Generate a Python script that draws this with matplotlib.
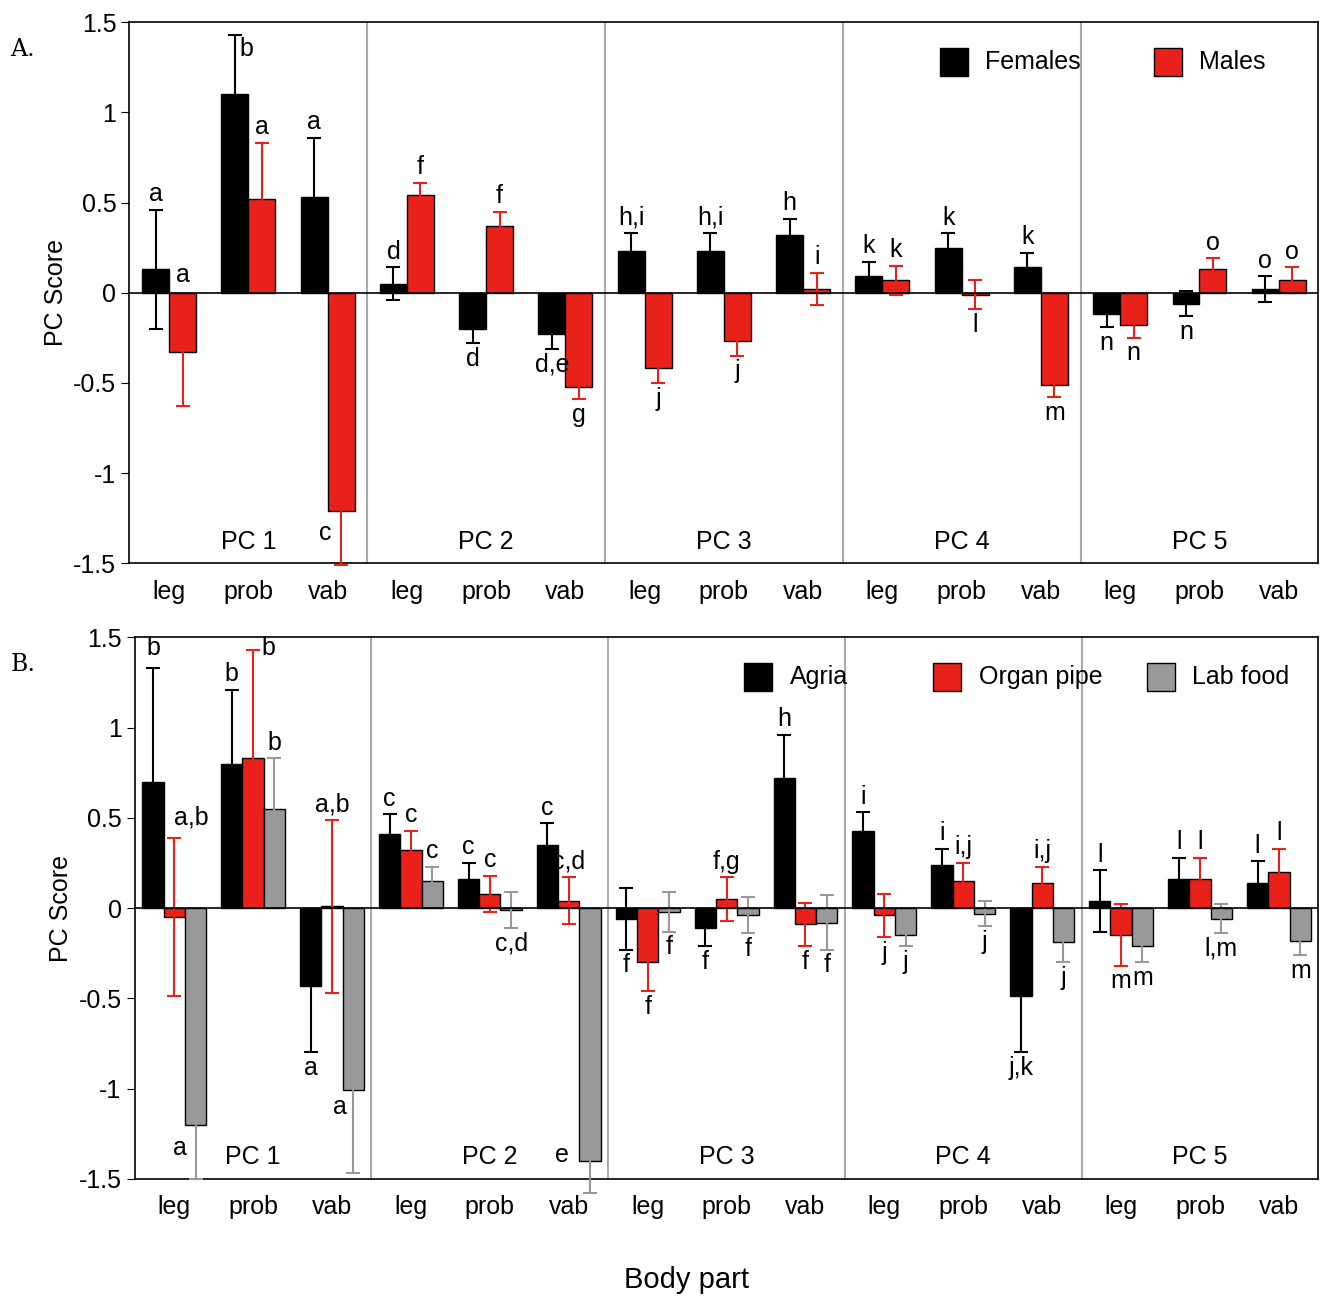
import matplotlib.pyplot as plt
import numpy as np

plt.rcParams['font.family'] = ['Liberation Sans', 'DejaVu Sans']

pcs = ['PC 1', 'PC 2', 'PC 3', 'PC 4', 'PC 5']
parts = ['leg', 'prob', 'vab']

# Panel A: sexes
fem = [0.13, 1.10, 0.53, 0.05, -0.20, -0.23, 0.23, 0.23, 0.32, 0.09, 0.25, 0.14, -0.12, -0.06, 0.02]
fem_err = [0.33, 0.33, 0.33, 0.09, 0.08, 0.08, 0.10, 0.10, 0.09, 0.08, 0.08, 0.08, 0.07, 0.07, 0.07]
fem_lab = ['a', 'b', 'a', 'd', 'd', 'd,e', 'h,i', 'h,i', 'h', 'k', 'k', 'k', 'n', 'n', 'o']
male = [-0.33, 0.52, -1.21, 0.54, 0.37, -0.52, -0.42, -0.27, 0.02, 0.07, -0.01, -0.51, -0.18, 0.13, 0.07]
male_err = [0.30, 0.31, 0.30, 0.07, 0.08, 0.07, 0.08, 0.08, 0.09, 0.08, 0.08, 0.07, 0.07, 0.06, 0.07]
male_lab = ['a', 'a', 'c', 'f', 'f', 'g', 'j', 'j', 'i', 'k', 'l', 'm', 'n', 'o', 'o']

# Panel B: food
agria = [0.70, 0.80, -0.43, 0.41, 0.16, 0.35, -0.06, -0.11, 0.72, 0.43, 0.24, -0.49, 0.04, 0.16, 0.14]
agria_err = [0.63, 0.41, 0.37, 0.11, 0.09, 0.12, 0.17, 0.10, 0.24, 0.10, 0.09, 0.31, 0.17, 0.12, 0.12]
agria_lab = ['b', 'b', 'a', 'c', 'c', 'c', 'f', 'f', 'h', 'i', 'i', 'j,k', 'l', 'l', 'l']
organ = [-0.05, 0.83, 0.01, 0.32, 0.08, 0.04, -0.30, 0.05, -0.09, -0.04, 0.15, 0.14, -0.15, 0.16, 0.20]
organ_err = [0.44, 0.60, 0.48, 0.11, 0.10, 0.13, 0.16, 0.12, 0.12, 0.12, 0.10, 0.09, 0.17, 0.12, 0.13]
organ_lab = ['a,b', 'b', 'a,b', 'c', 'c', 'c,d', 'f', 'f,g', 'f', 'j', 'i,j', 'i,j', 'm', 'l', 'l']
lab = [-1.20, 0.55, -1.01, 0.15, -0.01, -1.40, -0.02, -0.04, -0.08, -0.15, -0.03, -0.19, -0.21, -0.06, -0.18]
lab_err = [0.30, 0.28, 0.46, 0.08, 0.10, 0.18, 0.11, 0.10, 0.15, 0.06, 0.07, 0.11, 0.09, 0.08, 0.08]
lab_lab = ['a', 'b', 'a', 'c', 'c,d', 'e', 'f', 'f', 'f', 'j', 'j', 'j', 'm', 'l,m', 'm']

# letters placed beside the bar instead of past the whisker: (series, index) -> (dx, y)
A_moves = {(0, 1): (0.15, 1.35), (1, 0): (0.0, 0.1), (1, 2): (-0.2, -1.33)}
B_moves = {(0, 0): (0.0, 1.44), (1, 0): (0.22, 0.5), (1, 1): (0.2, 1.44),
           (2, 0): (-0.2, -1.33), (2, 2): (-0.17, -1.1), (2, 5): (-0.35, -1.37)}

FS = 18
fig = plt.figure(figsize=(13.21, 13.01), dpi=100)
axA = fig.add_axes([0.098, 0.567, 0.900, 0.416])
axB = fig.add_axes([0.102, 0.094, 0.896, 0.416])


def draw(ax, series, width, legend_labels, legend_x, moves):
    x = np.arange(15)
    n = len(series)
    for i, (vals, errs, labs, col, ecol) in enumerate(series):
        pos = x + (i - (n - 1) / 2) * width
        ax.bar(pos, vals, width, color=col, edgecolor='black', linewidth=1, zorder=2)
        eb = ax.errorbar(pos, vals, yerr=errs, fmt='none', ecolor=ecol, elinewidth=1.5,
                         capsize=5, capthick=1.5, zorder=3)
        for art in eb.lines[1] + eb.lines[2]:
            art.set_clip_on(False)
        for j, (p, v, e, t) in enumerate(zip(pos, vals, errs, labs)):
            if (i, j) in moves:
                dx, yy = moves[(i, j)]
                ax.text(p + dx, yy, t, ha='center', va='center', fontsize=FS, zorder=6)
            elif v >= 0:
                ax.text(p, v + e + 0.02, t, ha='center', va='bottom', fontsize=FS)
            else:
                ax.text(p, v - e - 0.02, t, ha='center', va='top', fontsize=FS)
    ax.axhline(0, color='black', lw=1.2, zorder=4)
    for s in [2.5, 5.5, 8.5, 11.5]:
        ax.axvline(s, color='#aaaaaa', lw=1.5, zorder=1)
    for k, pc in enumerate(pcs):
        ax.text(3 * k + 1, -1.38, pc, ha='center', va='center', fontsize=FS)
    ax.set_xlim(-0.5, 14.5)
    ax.set_ylim(-1.5, 1.5)
    ax.set_xticks(x)
    ax.set_xticklabels(parts * 5, fontsize=FS)
    ax.tick_params(axis='x', length=0, pad=12)
    ax.set_yticks([-1.5, -1, -0.5, 0, 0.5, 1, 1.5])
    ax.set_yticklabels(['-1.5', '-1', '-0.5', '0', '0.5', '1', '1.5'], fontsize=FS)
    ax.tick_params(axis='y', direction='out', length=6)
    ax.set_ylabel('PC Score', fontsize=FS)
    for sp in ax.spines.values():
        sp.set_linewidth(1.2)
    for (name, col), lx in zip(legend_labels, legend_x):
        ax.scatter([lx], [1.28], marker='s', s=380, color=col, edgecolor='black', zorder=5)
        ax.text(lx + 0.4, 1.28, name, va='center', ha='left', fontsize=FS)


draw(axA, [(fem, fem_err, fem_lab, 'black', 'black'),
           (male, male_err, male_lab, '#e8221a', '#e8221a')], 0.34,
     [('Females', 'black'), ('Males', '#e8221a')], [9.9, 12.6], A_moves)
draw(axB, [(agria, agria_err, agria_lab, 'black', 'black'),
           (organ, organ_err, organ_lab, '#e8221a', '#e8221a'),
           (lab, lab_err, lab_lab, '#999999', '#999999')], 0.27,
     [('Agria', 'black'), ('Organ pipe', '#e8221a'), ('Lab food', '#999999')], [7.4, 9.8, 12.5],
     B_moves)

fig.text(0.008, 0.957, 'A.', fontsize=17, family='DejaVu Serif')
fig.text(0.008, 0.484, 'B.', fontsize=17, family='DejaVu Serif')
fig.text(0.52, 0.01, 'Body part', fontsize=21, ha='center')

fig.savefig('out.png', dpi=100)
